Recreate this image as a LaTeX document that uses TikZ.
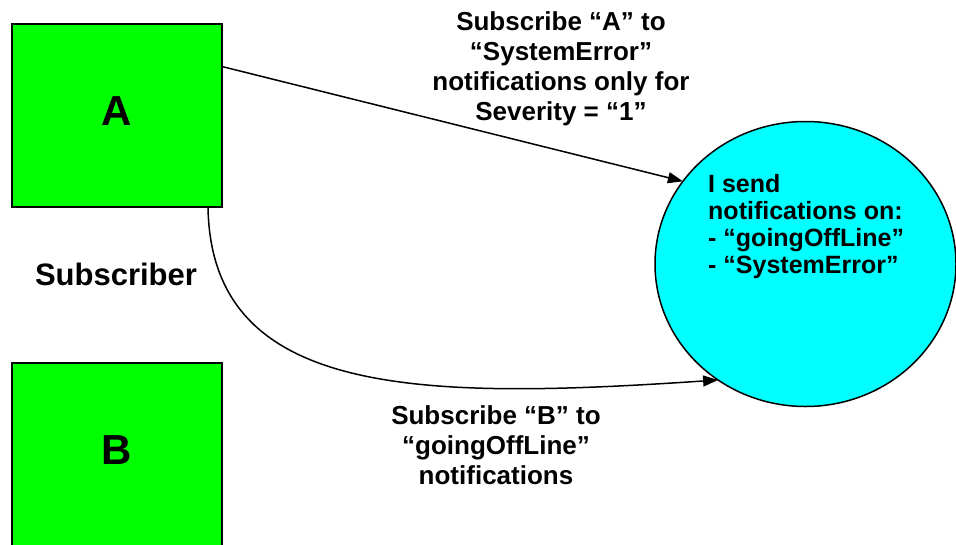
\documentclass[tikz,border=0pt]{standalone}
\usepackage{fontspec}
\setmainfont{Liberation Sans}
\usetikzlibrary{arrows.meta,shapes.geometric}

\definecolor{boxgreen}{RGB}{0,255,0}
\definecolor{pubcyan}{RGB}{0,255,255}

\tikzset{
  client/.style={draw=black, line width=2pt, fill=boxgreen, minimum width=210pt,
    minimum height=183pt, inner sep=0pt, outer sep=0pt},
  publisher/.style={ellipse, draw=black, line width=1.5pt, fill=pubcyan,
    minimum width=301pt, minimum height=285pt, inner sep=0pt, outer sep=0pt},
  bigletter/.style={font=\bfseries\fontsize{42}{48}\selectfont, inner sep=0pt, anchor=base},
  caption/.style={font=\bfseries\fontsize{26}{30}\selectfont, align=center, inner sep=0pt, anchor=north},
  sublink/.style={line width=1.5pt, -{Triangle[length=15pt,width=11pt]}}
}

\begin{document}
\begin{tikzpicture}[x=1pt, y=-1pt]
  \useasboundingbox (0,0) rectangle (956,544);

  % subscribers and the publisher
  \node[client] (boxA) at (117,115.5) {};
  \node[client] (boxB) at (117,454.5) {};
  \node[publisher] (pub) at (805.5,264) {};

  \node[bigletter] (letA) at (117,125) {A};
  \node[bigletter] (letB) at (117,464) {B};

  \node[font=\bfseries\fontsize{31}{36}\selectfont, inner sep=0pt, anchor=base]
    (role) at (116,285) {Subscriber};

  \node[font=\bfseries\fontsize{25}{27.2}\selectfont, align=left, inner sep=0pt,
    anchor=north west] (pubtext) at (708,174)
    {I send\\notifications on:\\- “goingOffLine”\\- “SystemError”};

  % subscriptions
  \draw[sublink] (boxA.25) -- (pub.146);
  \draw[sublink] ([xshift=-14pt]boxA.south east)
    .. controls (211,398) and (420,400) .. (pub.233.6);

  \node[caption] (capA) at (561,11)
    {Subscribe “A” to\\“SystemError”\\notifications only for\\Severity = “1”};
  \node[caption] (capB) at (496,405)
    {Subscribe “B” to\\“goingOffLine”\\notifications};
\end{tikzpicture}
\end{document}
